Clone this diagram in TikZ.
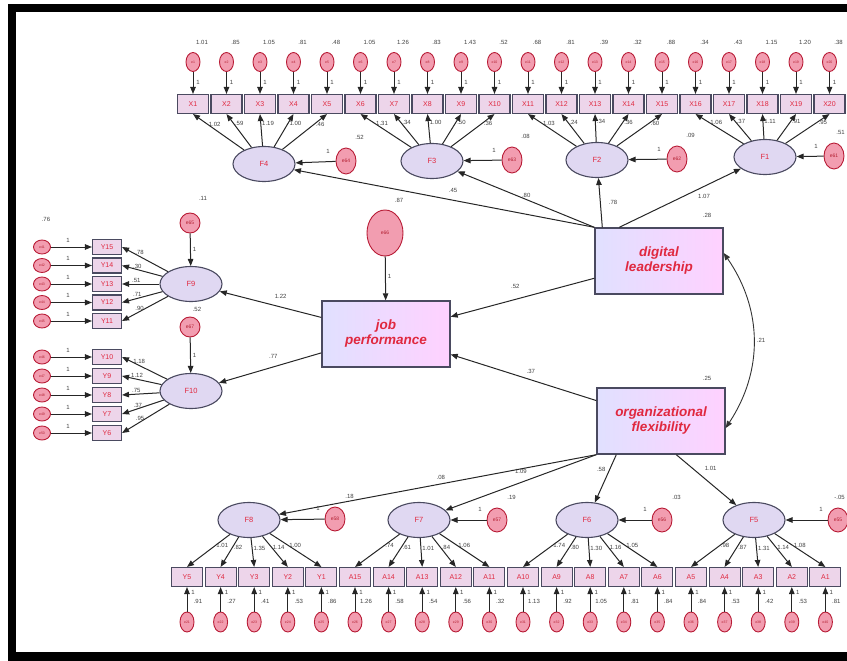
\documentclass[tikz,border=0pt]{standalone}
\usepackage{fontspec}
\setmainfont{Liberation Sans}
\usetikzlibrary{shapes.geometric,arrows.meta}
\definecolor{labred}{HTML}{E0283F}
\definecolor{errfill}{HTML}{F29DB0}
\definecolor{errdraw}{HTML}{B81C36}
\definecolor{obsfill}{HTML}{EDD5EA}
\definecolor{latfill}{HTML}{E0D8F2}
\definecolor{edge}{HTML}{4A4A60}

\begin{document}
\begin{tikzpicture}[x=1pt, y=-1pt,
    every node/.style={inner sep=0pt},
    obs/.style={draw=edge, line width=1.1pt, fill=obsfill, minimum width=31, minimum height=19,
      text=labred, font=\fontsize{7}{7}\selectfont},
    err/.style={ellipse, draw=errdraw, line width=.9pt, fill=errfill, minimum width=14,
      minimum height=19, text=labred!80!black, font=\fontsize{3.5}{3.5}\selectfont},
    dist/.style={err, minimum width=20, minimum height=26, font=\fontsize{5}{5}\selectfont},
    lat/.style={ellipse, draw=edge, line width=1.1pt, fill=latfill, minimum width=62,
      minimum height=35, text=labred, font=\fontsize{7.5}{7.5}\selectfont},
    construct/.style={draw=edge, line width=1.4pt, left color=blue!12!white, right color=magenta!18!white,
      minimum width=128, minimum height=66, align=center, text=labred,
      font=\fontsize{13.5}{15}\selectfont\bfseries\itshape},
    arr/.style={draw=black!85, line width=1pt, -{Triangle[length=7pt,width=5.5pt]}},
    dbl/.style={draw=black!80, line width=.9pt,
      {Triangle[length=7pt,width=5.5pt]}-{Triangle[length=7pt,width=5.5pt]}},
    lbl/.style={font=\fontsize{6}{6}\selectfont, text=black!75}
  ]
  \useasboundingbox (0,0) rectangle (847,661);
  \fill[black] (8,4) rectangle (847,12);
  \fill[black] (8,4) rectangle (16,661);
  \fill[black] (8,652) rectangle (847,661);

  % top indicators
  \foreach \v [count=\i] in {1.01,.85,1.05,.81,.48,1.05,1.26,.83,1.43,.52,
                              .68,.81,.39,.32,.88,.34,.43,1.15,1.20,.38} {
    \node[obs] (X\i) at ({193+33.5*(\i-1)},104) {X\i};
    \node[err] (ex\i) at ({193+33.5*(\i-1)},62) {e\i};
    \draw[arr] (ex\i) -- (X\i);
    \node[lbl] at ({202+33.5*(\i-1)},42) {\v};
    \node[lbl] at ({198+33.5*(\i-1)},82) {1};
  }

  \node[lat] (F4) at (264,164) {F4};
  \node[lat] (F3) at (432,161) {F3};
  \node[lat] (F2) at (597,160) {F2};
  \node[lat] (F1) at (765,157) {F1};

  \foreach \f/\pairs in {F4/{X1/1.02,X2/.59,X3/1.19,X4/1.00,X5/.46},
                         F3/{X6/1.31,X7/.34,X8/1.00,X9/.50,X10/.36},
                         F2/{X11/1.03,X12/.24,X13/.34,X14/.36,X15/.60},
                         F1/{X16/1.06,X17/.37,X18/1.11,X19/.91,X20/.95}} {
    \foreach \n/\v in \pairs
      \draw[arr] (\f) -- (\n.south) node[lbl, pos=.72, right=1pt] {\v};
  }

  % disturbances of the top factors
  \foreach \d/\f/\x/\y/\v in {e64/F4/346/161/.52, e63/F3/512/160/.08,
                              e62/F2/677/159/.09, e61/F1/834/156/.51} {
    \node[dist] (\d) at (\x,\y) {\d};
    \draw[arr] (\d) -- (\f);
    \node[lbl, anchor=east] at ({min(\x+18,845)},\y-24) {\v};
    \node[lbl] at (\x-18,\y-10) {1};
  }

  \node[construct] (DL) at (659,261) {digital\\leadership};
  \node[construct] (OF) at (661,421) {organizational\\flexibility};
  \node[construct] (JP) at (386,334) {job\\performance};
  \node[lbl] at (707,215) {.28};
  \node[lbl] at (707,378) {.25};

  \node[dist, minimum width=36, minimum height=46] (e66) at (385,233) {e66};
  \node[lbl] at (399,200) {.87};
  \draw[arr] (e66) -- (JP) node[lbl, pos=.45, right=2pt] {1};

  \draw[arr] (DL.north west) -- (F4) node[lbl, pos=.47, above=7pt] {.45};
  \draw[arr] (DL.north west) -- (F3) node[lbl, pos=.42, above left=6pt] {.80};
  \draw[arr] ([xshift=8pt]DL.north west) -- (F2) node[lbl, pos=.5, right=8pt] {.78};
  \draw[arr] ([xshift=25pt]DL.north west) -- (F1) node[lbl, pos=.62, below right=3pt] {1.07};

  \draw[arr] (DL) -- (JP) node[lbl, pos=.55, above=10pt] {.52};
  \draw[arr] (OF) -- (JP) node[lbl, pos=.45, above=6pt] {.37};
  \draw[dbl] ([yshift=8pt]DL.east) to[bend left=34] node[lbl, right=3pt] {.21} ([yshift=-7pt]OF.east);

  % left factors
  \node[lat] (F9) at (191,284) {F9};
  \node[lat] (F10) at (191,391) {F10};
  \draw[arr] (JP) -- (F9) node[lbl, pos=.4, above=8pt] {1.22};
  \draw[arr] (JP) -- (F10) node[lbl, pos=.47, above=8pt] {.77};

  \node[dist, minimum width=20, minimum height=20] (e65) at (190,223) {e65};
  \node[dist, minimum width=20, minimum height=20] (e67) at (190,327) {e67};
  \draw[arr] (e65) -- (F9) node[lbl, pos=.5, right=2pt] {1};
  \draw[arr] (e67) -- (F10) node[lbl, pos=.5, right=2pt] {1};
  \node[lbl] at (203,198) {.11};
  \node[lbl] at (197,309) {.52};

  \foreach \n/\yy/\v [count=\k] in {Y15/247/.78,Y14/265.5/.30,Y13/284/.51,Y12/302.5/.71,Y11/321/.90,
                                    Y10/357/1.18,Y9/376/1.12,Y8/395/.75,Y7/414/.37,Y6/433/.95} {
    \pgfmathtruncatemacro\m{40+\k}
    \node[obs, minimum width=29, minimum height=15] (\n) at (107,\yy) {\n};
    \node[err, minimum width=17, minimum height=14] (ey\k) at (42,\yy) {e\m};
    \draw[arr] (ey\k) -- (\n);
    \node[lbl] at (68,\yy-7) {1};
  }
  \node[lbl] at (46,219) {.76};
  \foreach \f/\pairs in {F9/{Y15/.78,Y14/.30,Y13/.51,Y12/.71,Y11/.90},
                         F10/{Y10/1.18,Y9/1.12,Y8/.75,Y7/.37,Y6/.95}} {
    \foreach \n/\v in \pairs
      \draw[arr] (\f) -- (\n.east) node[lbl, pos=.62, above=1pt] {\v};
  }

  % bottom indicators
  \foreach \n/\v [count=\k from 0] in {Y5/.91,Y4/.27,Y3/.41,Y2/.53,Y1/.86,A15/1.26,A14/.58,A13/.54,A12/.56,A11/.32,
                                       A10/1.13,A9/.92,A8/1.05,A7/.81,A6/.84,A5/.84,A4/.53,A3/.42,A2/.53,A1/.81} {
    \pgfmathtruncatemacro\m{21+\k}
    \node[obs] (\n) at ({187+33.6*\k},577) {\n};
    \node[err, minimum height=20] (eb\k) at ({187+33.6*\k},622) {e\m};
    \draw[arr] (eb\k) -- (\n);
    \node[lbl] at ({198+33.6*\k},601) {\v};
    \node[lbl] at ({193+33.6*\k},592) {1};
  }

  \node[lat] (F8) at (249,520) {F8};
  \node[lat] (F7) at (419,520) {F7};
  \node[lat] (F6) at (587,520) {F6};
  \node[lat] (F5) at (754,520) {F5};

  \foreach \f/\pairs in {F8/{Y5/1.01,Y4/.82,Y3/1.35,Y2/1.14,Y1/1.00},
                         F7/{A15/.74,A14/.61,A13/1.01,A12/.84,A11/1.06},
                         F6/{A10/1.74,A9/.80,A8/1.30,A7/1.16,A6/1.05},
                         F5/{A5/.98,A4/.87,A3/1.31,A2/1.14,A1/1.08}} {
    \foreach \n/\v in \pairs
      \draw[arr] (\f) -- (\n.north) node[lbl, pos=.35, right=1pt] {\v};
  }

  \foreach \d/\f/\x/\y/\v in {e58/F8/335/519/.18, e57/F7/497/520/.19,
                              e56/F6/662/520/.03, e55/F5/838/520/-.05} {
    \node[dist, minimum height=24] (\d) at (\x,\y) {\d};
    \draw[arr] (\d) -- (\f);
    \node[lbl, anchor=east] at ({min(\x+19,845)},\y-23) {\v};
    \node[lbl] at (\x-17,\y-11) {1};
  }

  \draw[arr] (OF.south west) -- (F8) node[lbl, pos=.49, above=4pt] {.08};
  \draw[arr] (OF.south west) -- (F7) node[lbl, pos=.5, above=8pt] {1.09};
  \draw[arr] ([xshift=20pt]OF.south west) -- (F6) node[lbl, pos=.3, left=4pt] {.58};
  \draw[arr] ([xshift=80pt]OF.south west) -- (F5) node[lbl, pos=.4, above right=4pt] {1.01};
\end{tikzpicture}
\end{document}
